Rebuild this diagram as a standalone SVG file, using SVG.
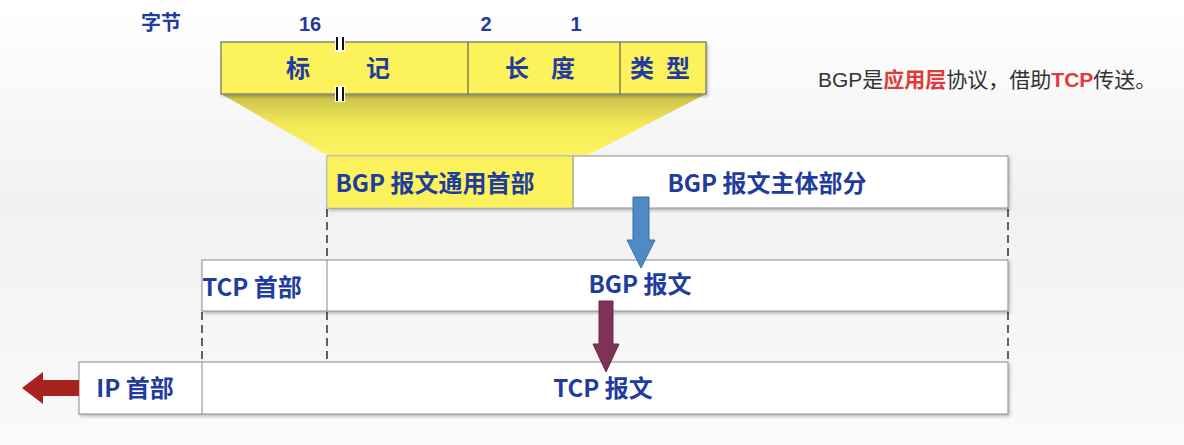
<svg xmlns="http://www.w3.org/2000/svg" width="1184" height="445" viewBox="0 0 1184 445">
<defs>
<linearGradient id="bg" x1="0" y1="0" x2="0" y2="1">
<stop offset="0" stop-color="#ffffff"/>
<stop offset="0.45" stop-color="#f1f1f1"/>
<stop offset="1" stop-color="#fafafa"/>
</linearGradient>
<linearGradient id="trap" x1="0" y1="0" x2="0" y2="1">
<stop offset="0" stop-color="#c9c04a"/>
<stop offset="0.5" stop-color="#f3ea58"/>
<stop offset="1" stop-color="#fcf460"/>
</linearGradient>
<filter id="sh" x="-5%" y="-10%" width="110%" height="130%">
<feDropShadow dx="1.5" dy="2" stdDeviation="1.5" flood-color="#000" flood-opacity="0.25"/>
</filter>
</defs>
<style>
.lbl{font-family:"Noto Sans CJK SC","Liberation Sans",sans-serif;font-weight:bold;fill:#1f3c9e;font-size:24px}
.num{font-family:"Liberation Sans","Noto Sans CJK SC",sans-serif;font-weight:bold;fill:#1f3c9e;font-size:20px}
.box{stroke:#8a8a8a;stroke-width:1;fill:#ffffff}
.ybox{stroke:#555;stroke-width:1;fill:#fcf35c}
.dash{stroke:#111;stroke-width:1.3;stroke-dasharray:8,5;fill:none}
.note{font-family:"Liberation Sans","Noto Sans CJK SC",sans-serif;font-size:21px;fill:#333}
.red{fill:#e03a3a;font-weight:bold}
</style>
<rect x="0" y="0" width="1184" height="445" fill="url(#bg)"/>

<g id="trapezoid">
<polygon points="223,95 704,95 588,155 327,155" fill="url(#trap)"/>
</g>

<g id="header-fields">
<rect class="ybox" x="221" y="42" width="485" height="52" filter="url(#sh)"/>
<line x1="468" y1="42" x2="468" y2="94" stroke="#444" stroke-width="1"/>
<line x1="620" y1="42" x2="620" y2="94" stroke="#444" stroke-width="1"/>
<rect x="335" y="36" width="10" height="16" fill="#ffffff"/>
<line x1="337" y1="37" x2="337" y2="50" stroke="#111" stroke-width="2"/>
<line x1="343" y1="37" x2="343" y2="50" stroke="#111" stroke-width="2"/>
<rect x="335" y="86" width="10" height="16" fill="#ffffff"/>
<line x1="337" y1="87" x2="337" y2="101" stroke="#111" stroke-width="2"/>
<line x1="343" y1="87" x2="343" y2="101" stroke="#111" stroke-width="2"/>
<text class="lbl" x="298" y="77" text-anchor="middle">标</text>
<text class="lbl" x="378" y="77" text-anchor="middle">记</text>
<text class="lbl" x="505" y="77" letter-spacing="22">长度</text>
<text class="lbl" x="630" y="77" letter-spacing="12">类型</text>
</g>

<g id="byte-labels">
<text class="lbl" x="161" y="30" text-anchor="middle" style="font-size:20px">字节</text>
<text class="num" x="310" y="31" text-anchor="middle">16</text>
<text class="num" x="486" y="31" text-anchor="middle">2</text>
<text class="num" x="576" y="31" text-anchor="middle">1</text>
</g>

<g id="note">
<text class="note" x="818" y="87">BGP是<tspan class="red">应用层</tspan>协议，借助<tspan class="red">TCP</tspan>传送。</text>
</g>

<g id="bgp-message">
<rect class="box" x="327" y="156" width="681" height="52" filter="url(#sh)"/>
<rect x="327.5" y="156.5" width="246" height="51" fill="#fcf35c"/>
<line x1="573" y1="156" x2="573" y2="208" stroke="#8a8a8a" stroke-width="1"/>
<text class="lbl" x="435" y="192" text-anchor="middle">BGP 报文通用首部</text>
<text class="lbl" x="767" y="192" text-anchor="middle">BGP 报文主体部分</text>
</g>

<g id="tcp-segment">
<rect class="box" x="202" y="260" width="806" height="51" filter="url(#sh)"/>
<line x1="327" y1="260" x2="327" y2="311" stroke="#8a8a8a" stroke-width="1"/>
<text class="lbl" x="252" y="296" text-anchor="middle">TCP 首部</text>
<text class="lbl" x="640" y="293" text-anchor="middle">BGP 报文</text>
</g>

<g id="ip-datagram">
<rect class="box" x="79" y="362" width="929" height="52" filter="url(#sh)"/>
<line x1="202" y1="362" x2="202" y2="414" stroke="#8a8a8a" stroke-width="1"/>
<text class="lbl" x="135" y="397" text-anchor="middle">IP 首部</text>
<text class="lbl" x="603" y="397" text-anchor="middle">TCP 报文</text>
</g>

<g id="connectors">
<line class="dash" x1="327" y1="209" x2="327" y2="260"/>
<line class="dash" x1="1008" y1="209" x2="1008" y2="260"/>
<line class="dash" x1="202" y1="312" x2="202" y2="362"/>
<line class="dash" x1="327" y1="312" x2="327" y2="362"/>
<line class="dash" x1="1008" y1="312" x2="1008" y2="362"/>
<polygon points="633,197 649,197 649,240 655,240 641,268 627,240 633,240" fill="#4f8ac6" stroke="#3a6fa6" stroke-width="1"/>
<polygon points="599,301 613,301 613,344 619,344 606,372 593,344 599,344" fill="#7e3356" stroke="#6a2846" stroke-width="1"/>
<polygon points="79,380 43,380 43,372 22,388 43,404 43,396 79,396" fill="#a8231e"/>
</g>
</svg>
